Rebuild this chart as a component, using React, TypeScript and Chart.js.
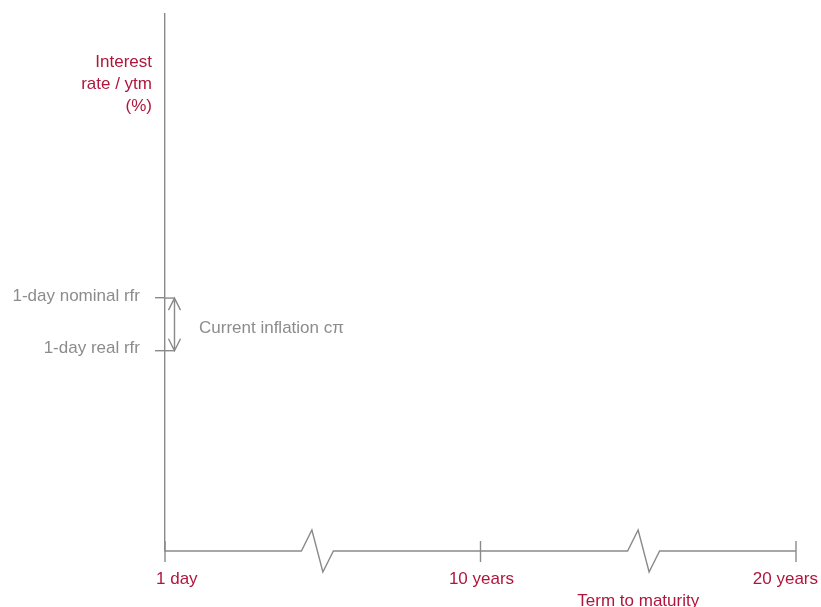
import React, { useEffect, useRef } from 'react';
import { Chart, registerables } from 'chart.js';

Chart.register(...registerables);

// ---- data ----
const X_MIN = 0;
const X_MAX = 20;
const X_TICK_VALUES = [0, 10, 20];
const X_TICK_LABELS = ['1 day', '10 years', '20 years'];
const X_BREAKS = [4.83, 15.17];
const X_TITLE = 'Term to maturity';
const X_TITLE_AT = 15;

const Y_MIN = 0;
const Y_MAX = 10;
const Y_TICK_VALUES = [4.71, 3.73];
const Y_TICK_LABELS = ['1-day nominal rfr', '1-day real rfr'];
const Y_TITLE_LINES = ['Interest', 'rate / ytm', '(%)'];
const INFLATION_LABEL = 'Current inflation c\u03c0';

// ---- style ----
const RED = '#b0163c';
const GRAY_LINE = '#8a8a8a';
const GRAY_TEXT = '#8c8c8c';
const FONT_FAMILY = '"Liberation Sans", Arial, sans-serif';
const FONT_SIZE = 17;
const LINE_W = 1.4;
const X_LABEL_ALIGN: CanvasTextAlign[] = ['left', 'center', 'right'];
const X_LABEL_SHIFT = [-9, 1, 22];

const decorPlugin = {
  id: 'decor',
  afterDraw(chart: any) {
    const ctx = chart.ctx as CanvasRenderingContext2D;
    const xs = chart.scales.x;
    const ys = chart.scales.y;
    const axisY = ys.getPixelForValue(Y_MIN);
    const axisX = xs.getPixelForValue(X_MIN);
    ctx.save();
    ctx.strokeStyle = GRAY_LINE;
    ctx.lineWidth = LINE_W;
    ctx.lineJoin = 'miter';

    // x axis with breaks
    const half = 16;
    const peak = 5.5;
    const amp = 21;
    ctx.beginPath();
    ctx.moveTo(axisX, axisY);
    X_BREAKS.forEach((b) => {
      const c = xs.getPixelForValue(b);
      ctx.lineTo(c - half, axisY);
      ctx.lineTo(c - peak, axisY - amp);
      ctx.lineTo(c + peak, axisY + amp);
      ctx.lineTo(c + half, axisY);
    });
    ctx.lineTo(xs.getPixelForValue(X_MAX), axisY);
    ctx.stroke();

    // x ticks
    X_TICK_VALUES.forEach((v) => {
      const px = xs.getPixelForValue(v);
      ctx.beginPath();
      ctx.moveTo(px, axisY - 10);
      ctx.lineTo(px, axisY + 11);
      ctx.stroke();
    });

    // y tick extensions to the right of the axis
    Y_TICK_VALUES.forEach((v) => {
      const py = ys.getPixelForValue(v);
      ctx.beginPath();
      ctx.moveTo(axisX, py);
      ctx.lineTo(axisX + 10, py);
      ctx.stroke();
    });

    // double arrow
    const ay1 = ys.getPixelForValue(Y_TICK_VALUES[0]);
    const ay2 = ys.getPixelForValue(Y_TICK_VALUES[1]);
    const ax = axisX + 9.5;
    ctx.beginPath();
    ctx.moveTo(ax, ay1);
    ctx.lineTo(ax, ay2);
    ctx.moveTo(ax - 6, ay1 + 12);
    ctx.lineTo(ax, ay1);
    ctx.lineTo(ax + 6, ay1 + 12);
    ctx.moveTo(ax - 6, ay2 - 12);
    ctx.lineTo(ax, ay2);
    ctx.lineTo(ax + 6, ay2 - 12);
    ctx.stroke();

    ctx.font = `${FONT_SIZE}px ${FONT_FAMILY}`;
    ctx.textBaseline = 'middle';

    // inflation label
    ctx.fillStyle = GRAY_TEXT;
    ctx.textAlign = 'left';
    ctx.fillText(INFLATION_LABEL, axisX + 34, (ay1 + ay2) / 2 + 4);

    // x tick labels
    ctx.fillStyle = RED;
    X_TICK_VALUES.forEach((v, i) => {
      ctx.textAlign = X_LABEL_ALIGN[i];
      ctx.fillText(X_TICK_LABELS[i], xs.getPixelForValue(v) + X_LABEL_SHIFT[i], axisY + 28);
    });

    // x title
    ctx.textAlign = 'center';
    ctx.fillText(X_TITLE, xs.getPixelForValue(X_TITLE_AT), axisY + 50);

    // y title
    ctx.textAlign = 'right';
    Y_TITLE_LINES.forEach((t, i) => {
      ctx.fillText(t, axisX - 13, chart.chartArea.top + 48 + i * 22);
    });

    ctx.restore();
  },
};

export default function App() {
  const canvasRef = useRef<HTMLCanvasElement | null>(null);

  useEffect(() => {
    document.body.style.margin = '0';
    document.body.style.overflow = 'hidden';
    const canvas = canvasRef.current;
    if (!canvas) return;
    const chart = new Chart(canvas, {
      type: 'line',
      data: { datasets: [] },
      plugins: [decorPlugin],
      options: {
        animation: false,
        responsive: true,
        maintainAspectRatio: false,
        layout: { padding: { top: 14, right: 25, bottom: 0, left: 0 } },
        plugins: { legend: { display: false }, tooltip: { enabled: false } },
        scales: {
          x: {
            type: 'linear',
            min: X_MIN,
            max: X_MAX,
            grid: { display: false },
            border: { display: false },
            ticks: { display: false },
            afterFit: (s: any) => {
              s.height = 56;
              s.paddingLeft = 0;
              s.paddingRight = 0;
            },
          },
          y: {
            type: 'linear',
            position: 'left',
            min: Y_MIN,
            max: Y_MAX,
            afterBuildTicks: (s: any) => {
              s.ticks = Y_TICK_VALUES.map((v) => ({ value: v }));
            },
            afterFit: (s: any) => {
              s.width = 165;
              s.paddingTop = 0;
              s.paddingBottom = 0;
            },
            grid: {
              drawOnChartArea: false,
              drawTicks: true,
              tickLength: 10,
              color: GRAY_LINE,
              lineWidth: LINE_W,
            },
            border: { display: true, color: GRAY_LINE, width: LINE_W },
            ticks: {
              autoSkip: false,
              padding: 15,
              labelOffset: -2,
              color: GRAY_TEXT,
              font: { family: FONT_FAMILY, size: FONT_SIZE },
              callback: (_v: any, i: number) => Y_TICK_LABELS[i],
            },
          },
        },
      },
    });
    return () => chart.destroy();
  }, []);

  return (
    <div style={{ position: 'relative', width: 821, height: 607 }}>
      <canvas ref={canvasRef} />
    </div>
  );
}
